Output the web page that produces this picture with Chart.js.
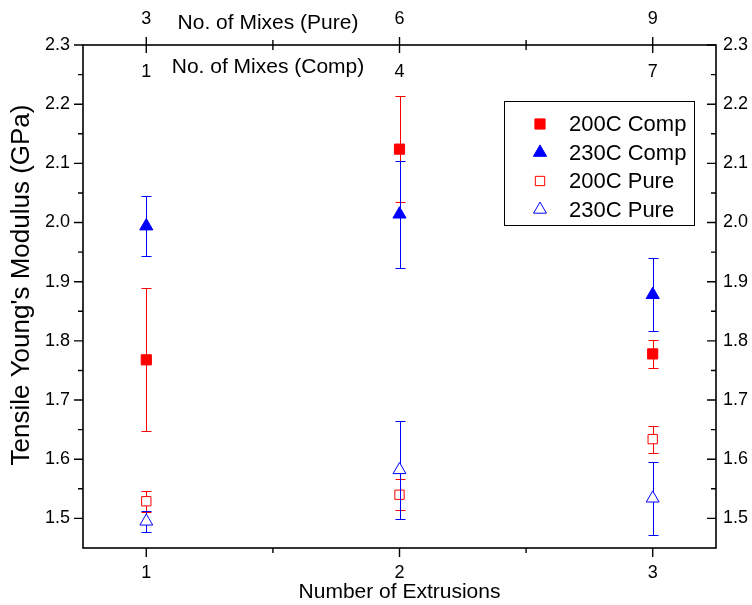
<!DOCTYPE html>
<html><head><meta charset="utf-8">
<script src="https://cdn.jsdelivr.net/npm/chart.js@4.4.1/dist/chart.umd.min.js"></script>
<style>html,body{margin:0;padding:0;background:#fff}#wrap{width:752px;height:605px;position:relative}</style>
</head><body><div id="wrap"><canvas id="c"></canvas></div>
<script>
// ---- data ----
const extrusions = [1, 2, 3];
const pureMixes = ['3', '6', '9'];
const compMixes = ['1', '4', '7'];
const yTickValues = [1.5, 1.6, 1.7, 1.8, 1.9, 2.0, 2.1, 2.2, 2.3];
const seriesLabels = ['200C Comp', '230C Comp', '200C Pure', '230C Pure'];
const comp200 = [1.768, 2.124, 1.778];
const comp200Err = [0.121, 0.090, 0.024];
const comp230 = [1.994, 2.014, 1.878];
const comp230Err = [0.051, 0.090, 0.062];
const pure200 = [1.529, 1.540, 1.634];
const pure200Err = [0.018, 0.026, 0.023];
const pure230 = [1.495, 1.582, 1.534];
const pure230Err = [0.018, 0.083, 0.062];

const FONT = "'Liberation Sans', Arial, sans-serif";
const RED = '#ff0000', BLUE = '#0000ff';

function pts(vals) { return extrusions.map((x, i) => ({ x: x, y: vals[i] })); }

const datasets = [
  { label: seriesLabels[0], data: pts(comp200), err: comp200Err, pointStyle: 'rect', pointRadius: 7.2, backgroundColor: RED, borderColor: RED, borderWidth: 1, order: 4 },
  { label: seriesLabels[1], data: pts(comp230), err: comp230Err, pointStyle: 'triangle', pointRadius: 7.6, backgroundColor: BLUE, borderColor: BLUE, borderWidth: 1, order: 3 },
  { label: seriesLabels[2], data: pts(pure200), err: pure200Err, pointStyle: 'rect', pointRadius: 6.6, backgroundColor: '#ffffff', borderColor: RED, borderWidth: 1, order: 2 },
  { label: seriesLabels[3], data: pts(pure230), err: pure230Err, pointStyle: 'triangle', pointRadius: 7.4, backgroundColor: '#ffffff', borderColor: BLUE, borderWidth: 1, order: 1 }
];
datasets.forEach(d => { d.showLine = false; d.pointHoverRadius = d.pointRadius; });

function drawMarker(ctx, style, r, x, y, fill, stroke) {
  ctx.save();
  ctx.beginPath();
  if (style === 'rect') {
    const s = Math.SQRT1_2 * r;
    ctx.rect(x - s, y - s, 2 * s, 2 * s);
  } else {
    let rad = 0;
    for (let k = 0; k < 3; k++) {
      const px = x + Math.sin(rad) * r, py = y - Math.cos(rad) * r;
      k === 0 ? ctx.moveTo(px, py) : ctx.lineTo(px, py);
      rad += 2 * Math.PI / 3;
    }
    ctx.closePath();
  }
  ctx.fillStyle = fill; ctx.fill();
  ctx.lineWidth = 1; ctx.strokeStyle = stroke; ctx.stroke();
  ctx.restore();
}

const errorBars = {
  id: 'errorBars',
  beforeDatasetDraw(chart, args) {
    const ds = chart.data.datasets[args.index];
    const xs = chart.scales.x, ys = chart.scales.y;
    const ctx = chart.ctx;
    ctx.save();
    ctx.strokeStyle = ds.borderColor; ctx.lineWidth = 1;
    ds.data.forEach((p, i) => {
      const e = ds.err[i];
      const px = Math.round(xs.getPixelForValue(p.x)) + 0.5;
      const yt = Math.round(ys.getPixelForValue(p.y + e)) + 0.5;
      const yb = Math.round(ys.getPixelForValue(p.y - e)) + 0.5;
      ctx.beginPath();
      ctx.moveTo(px, yt); ctx.lineTo(px, yb);
      ctx.moveTo(px - 5, yt); ctx.lineTo(px + 5, yt);
      ctx.moveTo(px - 5, yb); ctx.lineTo(px + 5, yb);
      ctx.stroke();
    });
    ctx.restore();
  }
};

const frameAndExtras = {
  id: 'frameAndExtras',
  afterDraw(chart) {
    const ctx = chart.ctx, a = chart.chartArea;
    const xs = chart.scales.x, ys = chart.scales.y;
    ctx.save();
    ctx.strokeStyle = '#000'; ctx.lineWidth = 1.6;
    ctx.strokeRect(a.left, a.top, a.right - a.left, a.bottom - a.top);
    ctx.lineWidth = 1.4;
    ctx.beginPath();
    // x ticks (bottom outward, top crossing)
    const xMaj = extrusions, xMin = [1.5, 2.5];
    xMaj.forEach(v => { const p = xs.getPixelForValue(v);
      ctx.moveTo(p, a.bottom); ctx.lineTo(p, a.bottom + 9);
      ctx.moveTo(p, a.top - 8); ctx.lineTo(p, a.top + 8); });
    xMin.forEach(v => { const p = xs.getPixelForValue(v);
      ctx.moveTo(p, a.bottom); ctx.lineTo(p, a.bottom + 5);
      ctx.moveTo(p, a.top - 5); ctx.lineTo(p, a.top + 5); });
    // y ticks (left outward, right inward)
    yTickValues.forEach((v, i) => {
      const p = ys.getPixelForValue(v);
      ctx.moveTo(a.left - 9, p); ctx.lineTo(a.left, p);
      ctx.moveTo(a.right - 9, p); ctx.lineTo(a.right, p);
      if (i < yTickValues.length - 1) {
        const q = ys.getPixelForValue(v + 0.05);
        ctx.moveTo(a.left - 5, q); ctx.lineTo(a.left, q);
        ctx.moveTo(a.right - 5, q); ctx.lineTo(a.right, q);
      }
    });
    ctx.stroke();

    ctx.fillStyle = '#000';
    ctx.textAlign = 'center'; ctx.textBaseline = 'middle';
    // y-axis title
    ctx.save();
    ctx.translate(22, 285);
    ctx.rotate(-Math.PI / 2);
    ctx.font = '26px ' + FONT;
    ctx.fillText("Tensile Young's Modulus (GPa)", 0, 0);
    ctx.restore();

    // top-axis texts
    ctx.font = '21px ' + FONT;
    ctx.fillText('No. of Mixes (Pure)', 268, 23);
    ctx.fillText('No. of Mixes (Comp)', 268, 67);
    ctx.font = '18px ' + FONT;
    compMixes.forEach((t, i) => ctx.fillText(t, xs.getPixelForValue(extrusions[i]), 72));

    // legend
    const lw = 190, lh = 124;
    const lx = a.right - 22 - lw, ly = a.top + 56;
    ctx.lineWidth = 1;
    ctx.strokeRect(Math.round(lx) + 0.5, Math.round(ly) + 0.5, lw, lh);
    ctx.font = '22px ' + FONT; ctx.textAlign = 'left';
    chart.data.datasets.forEach((ds, i) => {
      const cy = ly + 23 + i * 28.5;
      drawMarker(ctx, ds.pointStyle, ds.pointRadius, lx + 36, cy, ds.backgroundColor, ds.borderColor);
      ctx.fillStyle = '#000';
      ctx.fillText(ds.label, lx + 65, cy + 1);
    });
    ctx.restore();
  }
};

const tickFont = { family: FONT, size: 18 };
const noGrid = { display: false, drawTicks: false };

new Chart(document.getElementById('c'), {
  type: 'scatter',
  data: { datasets: datasets },
  options: {
    responsive: true, maintainAspectRatio: false, animation: false,
    layout: { padding: 0 },
    plugins: { legend: { display: false }, tooltip: { enabled: false } },
    scales: {
      x: {
        type: 'linear', position: 'bottom', min: 0.75, max: 3.25,
        grid: noGrid, border: { display: false },
        afterBuildTicks: s => { s.ticks = extrusions.map(v => ({ value: v })); },
        afterFit: s => { s.height = 57; },
        ticks: { font: tickFont, color: '#000', padding: 14, maxRotation: 0, callback: v => String(v) },
        title: { display: true, text: 'Number of Extrusions', font: { family: FONT, size: 21 }, color: '#000', padding: { top: 0, bottom: 0 } }
      },
      x2: {
        type: 'linear', position: 'top', min: 0.75, max: 3.25,
        grid: noGrid, border: { display: false },
        afterBuildTicks: s => { s.ticks = extrusions.map(v => ({ value: v })); },
        afterFit: s => { s.height = 45; },
        ticks: { font: tickFont, color: '#000', padding: 15, maxRotation: 0,
          callback: (v) => pureMixes[extrusions.indexOf(v)] }
      },
      y: {
        type: 'linear', position: 'left', min: 1.45, max: 2.3,
        grid: noGrid, border: { display: false },
        afterBuildTicks: s => { s.ticks = yTickValues.map(v => ({ value: v })); },
        afterFit: s => { s.width = 83; },
        ticks: { font: tickFont, color: '#000', padding: 13, callback: v => v.toFixed(1) }
      },
      y2: {
        type: 'linear', position: 'right', min: 1.45, max: 2.3,
        grid: noGrid, border: { display: false },
        afterBuildTicks: s => { s.ticks = yTickValues.map(v => ({ value: v })); },
        afterFit: s => { s.width = 36; },
        ticks: { font: tickFont, color: '#000', padding: 7, callback: v => v.toFixed(1) }
      }
    }
  },
  plugins: [errorBars, frameAndExtras]
});
</script>
</body></html>
